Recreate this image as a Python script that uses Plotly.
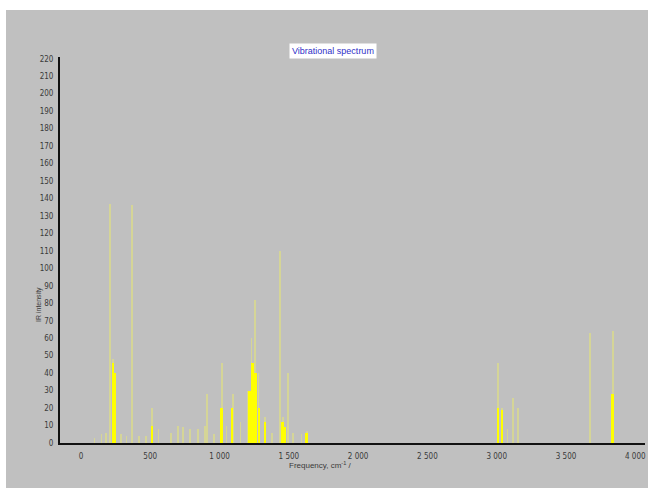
import plotly.graph_objects as go

# Vibrational spectrum: line positions (cm^-1) and IR intensities
line_freq = [100, 150, 180, 209, 231, 250, 290, 330, 368, 420, 470, 512, 560, 650, 700,
             736, 786, 844, 895, 909, 960, 1017, 1050, 1097, 1150, 1205, 1230, 1255, 1280,
             1328, 1380, 1436, 1457, 1472, 1494, 1530, 1590, 1630,
             3009, 3038, 3080, 3117, 3153, 3672, 3838]
line_int = [3, 5, 6, 137, 48, 10, 5, 4, 136, 4, 4, 20, 8, 6, 10,
            9, 8, 8, 10, 28, 5, 46, 10, 28, 12, 30, 60, 82, 40,
            15, 6, 110, 15, 9, 40, 6, 5, 7,
            46, 20, 8, 26, 20, 63, 64]

# Strong (overlapping) lines that appear as bright yellow cores
core_freq = [231, 245, 512, 1017, 1090, 1215, 1240, 1260, 1285, 1328, 1457, 1472, 1630,
             3009, 3038, 3838]
core_int = [46, 40, 10, 20, 20, 30, 46, 40, 20, 12, 12, 9, 6,
            20, 19, 28]

x_tick_vals = [0, 500, 1000, 1500, 2000, 2500, 3000, 3500, 4000]
x_tick_text = ["0", "500", "1 000", "1 500", "2 000", "2 500", "3 000", "3 500", "4 000"]
y_tick_vals = list(range(0, 221, 10))

GRAY = "#c0c0c0"
TICKFONT = dict(family="Liberation Sans Narrow, DejaVu Sans Condensed, Liberation Sans, Arial",
                size=8, color="#3a3a3a")

fig = go.Figure()
fig.add_trace(go.Bar(x=line_freq, y=line_int, width=10,
                     marker=dict(color="rgba(245,245,90,0.4)", line=dict(width=0)),
                     showlegend=False))
fig.add_trace(go.Bar(x=core_freq, y=core_int, width=20,
                     marker=dict(color="#ffff00", line=dict(width=0)),
                     showlegend=False))

L, R, T, B = 60, 3, 57, 48
W, H = 648, 491
pw, ph = W - L - R, H - T - B

fig.update_layout(
    width=W, height=H,
    margin=dict(l=L, r=R, t=T, b=B),
    paper_bgcolor="white",
    plot_bgcolor=GRAY,
    barmode="overlay",
    bargap=0,
    xaxis=dict(range=[-151, 4070], tickvals=x_tick_vals, ticktext=x_tick_text,
               showgrid=False, zeroline=False, showline=True, linecolor="#111111",
               linewidth=2, ticks="", tickfont=TICKFONT, ticklabelstandoff=4),
    yaxis=dict(range=[0, 221], tickvals=y_tick_vals, showgrid=False, zeroline=False,
               showline=True, linecolor="#111111", linewidth=2, ticks="",
               tickfont=TICKFONT, ticklabelstandoff=3),
    shapes=[dict(type="rect", xref="paper", yref="paper", layer="below",
                 x0=(6 - L) / pw, x1=(W + 5 - L) / pw,
                 y0=-(488 - (H - B)) / ph, y1=(H - B - 10) / ph,
                 fillcolor=GRAY, line=dict(width=0))],
    annotations=[
        dict(text="Vibrational spectrum", xref="paper", yref="paper",
             x=(333 - L) / pw, y=(H - B - 43) / ph, showarrow=False,
             bgcolor="white", font=dict(family="Liberation Sans, Arial", size=9, color="#3030c8"),
             borderpad=2),
        dict(text="IR intensity", xref="paper", yref="paper", textangle=-90,
             x=(33 - L) / pw, y=(H - B - 305) / ph, showarrow=False,
             font=dict(family="Liberation Sans Narrow, Liberation Sans, Arial", size=7, color="#3a3a3a")),
        dict(text="Frequency, cm<sup>-1</sup> /", xref="paper", yref="paper",
             x=(320 - L) / pw, y=-(472 - (H - B)) / ph, showarrow=False,
             font=dict(family="Liberation Sans Narrow, Liberation Sans, Arial", size=8, color="#3a3a3a")),
    ],
)

fig.write_html("out.html")
